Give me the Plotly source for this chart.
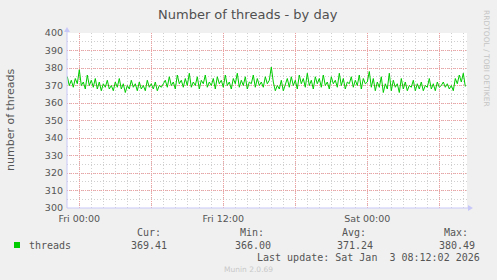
import pandas as pd
import plotly.graph_objects as go

# ---- data ----
series_name = "threads"
start_time = "2026-01-01 23:00"
step = "10min"
thread_values = [
    375, 370, 373, 369, 374, 371, 379, 370, 372, 368, 376, 370, 373, 369, 374,
    368, 372, 367, 371, 369, 373, 368, 370, 367, 372, 369, 374, 368, 371, 366, 370, 368,
    373, 369, 371, 367, 372, 368, 370, 367, 373, 369, 371, 368, 372, 367, 370, 369, 371,
    373, 369, 375, 370, 372, 368, 376, 371, 373, 369, 374, 370, 377, 369, 372, 370, 375,
    368, 373, 371, 376, 369, 372, 370, 374, 368, 375, 371, 373, 369, 376, 370, 372, 368,
    374, 371, 377, 369, 373, 370, 375, 368, 372, 371, 376, 369, 374, 370, 372, 369, 375,
    371, 373, 380.49, 372, 367, 370, 368, 373, 367,
    371, 374, 369, 375, 370, 373, 368, 376, 371, 374, 369, 377, 370, 373, 368, 375, 371,
    374, 369, 376, 370, 372, 368, 375, 371, 373, 369, 377, 370, 374, 368, 372, 371, 375,
    369, 373, 370, 376, 368, 374, 371, 372,
    378, 369, 374, 367, 372, 369, 375, 366, 371, 368, 377, 367, 373, 369, 371, 366, 374,
    368, 372, 367, 370, 369, 373, 367, 371, 368, 372, 367, 370, 369, 374, 368, 371, 367,
    372, 369,
    370, 372, 369, 371, 368, 370, 367,
    374, 371, 376, 372, 377, 369.41,
]
tick_times = ["2026-01-02 00:00", "2026-01-02 06:00", "2026-01-02 12:00",
              "2026-01-02 18:00", "2026-01-03 00:00", "2026-01-03 06:00"]
tick_labels = ["Fri 00:00", "", "Fri 12:00", "", "Sat 00:00", ""]
x_range = ["2026-01-01 22:58:30", "2026-01-03 08:18:30"]
y_range = [300, 400]
y_ticks = list(range(300, 401, 10))
stat_labels = ["Cur:", "Min:", "Avg:", "Max:"]
stat_values = ["369.41", "366.00", "371.24", "380.49"]
last_update = "Last update: Sat Jan  3 08:12:02 2026"

times = pd.date_range(start_time, periods=len(thread_values), freq=step)

# ---- layout helpers (pixel -> paper) ----
L, R, T, B = 67, 467, 33, 208
def px(x):
    return (x - L) / (R - L)
def py(y):
    return (B - y) / (B - T)

fig = go.Figure()
fig.add_trace(go.Scatter(x=times, y=thread_values, mode="lines",
                         line=dict(color="#00CC00", width=1), hoverinfo="skip",
                         showlegend=False))

mono = "DejaVu Sans Mono"
sans = "DejaVu Sans"
txt = "#555555"

fig.update_layout(
    width=497, height=280,
    margin=dict(l=L, r=497 - R, t=T, b=280 - B),
    paper_bgcolor="#F0F0F0", plot_bgcolor="#FFFFFF",
    showlegend=False,
    xaxis=dict(
        type="date", range=x_range,
        tickmode="array", tickvals=tick_times, ticktext=tick_labels,
        showgrid=True, gridcolor="#F0A0A0", griddash="1px,1px", gridwidth=1,
        ticks="", ticklabelstandoff=3,
        tickfont=dict(family=sans, size=9.5, color=txt),
        showline=False, zeroline=False,
        minor=dict(showgrid=True, tickmode="linear", tick0="2026-01-02 00:00",
                   dtick=3600000, gridcolor="#D0D0D0", griddash="1px,2px", gridwidth=1),
    ),
    yaxis=dict(
        range=y_range, tickmode="array", tickvals=y_ticks,
        showgrid=True, gridcolor="#F0A0A0", griddash="1px,1px", gridwidth=1,
        ticks="", ticklabelstandoff=3,
        tickfont=dict(family=sans, size=9.5, color=txt),
        showline=False, zeroline=False,
        minor=dict(showgrid=True, tickmode="linear", tick0=300, dtick=5,
                   gridcolor="#D0D0D0", griddash="1px,2px", gridwidth=1),
    ),
)

annotations = []
def ann(text, x, y, xanchor="center", yanchor="middle", size=10, color=txt,
        family=mono, angle=0):
    annotations.append(dict(text=text, x=px(x), y=py(y), xref="paper", yref="paper",
                            xanchor=xanchor, yanchor=yanchor, showarrow=False,
                            textangle=angle,
                            font=dict(family=family, size=size, color=color)))

ann("Number of threads - by day", 248, 14, size=13, family=sans, color="#505050")
ann("number of threads", 10, 120, size=11, family=sans, color=txt, angle=-90)
ann("RRDTOOL / TOBI OETIKER", 487, 58, size=7.5, family=sans, color="#C4C4C4", angle=90)
ann(series_name, 27, 245, xanchor="left")
label_ends = [163, 266, 368, 470]
value_ends = [169, 273, 375, 477]
for lab, val, le, ve in zip(stat_labels, stat_values, label_ends, value_ends):
    ann(lab, le, 232, xanchor="right")
    ann(val, ve, 245, xanchor="right")
ann(last_update, 482, 257, xanchor="right")
ann("Munin 2.0.69", 248, 269, size=7.5, family=sans, color="#C8C8C8")
fig.update_layout(annotations=annotations)

axis_col = "#C8C8F8"
shapes = [
    # legend color box
    dict(type="rect", xref="paper", yref="paper", x0=px(14), x1=px(20),
         y0=py(248), y1=py(242), fillcolor="#00CC00", line=dict(width=0)),
    # axis lines
    dict(type="line", xref="paper", yref="paper", x0=px(67), x1=px(67),
         y0=py(208), y1=py(30), line=dict(color=axis_col, width=1)),
    dict(type="line", xref="paper", yref="paper", x0=px(67), x1=px(470),
         y0=py(208), y1=py(208), line=dict(color=axis_col, width=1)),
    # arrow heads
    dict(type="path", xref="paper", yref="paper",
         path=f"M {px(64)} {py(32)} L {px(70)} {py(32)} L {px(67)} {py(27)} Z",
         fillcolor=axis_col, line=dict(width=0)),
    dict(type="path", xref="paper", yref="paper",
         path=f"M {px(468)} {py(205)} L {px(468)} {py(211)} L {px(473)} {py(208)} Z",
         fillcolor=axis_col, line=dict(width=0)),
]
fig.update_layout(shapes=shapes)

fig.write_html("out.html")
